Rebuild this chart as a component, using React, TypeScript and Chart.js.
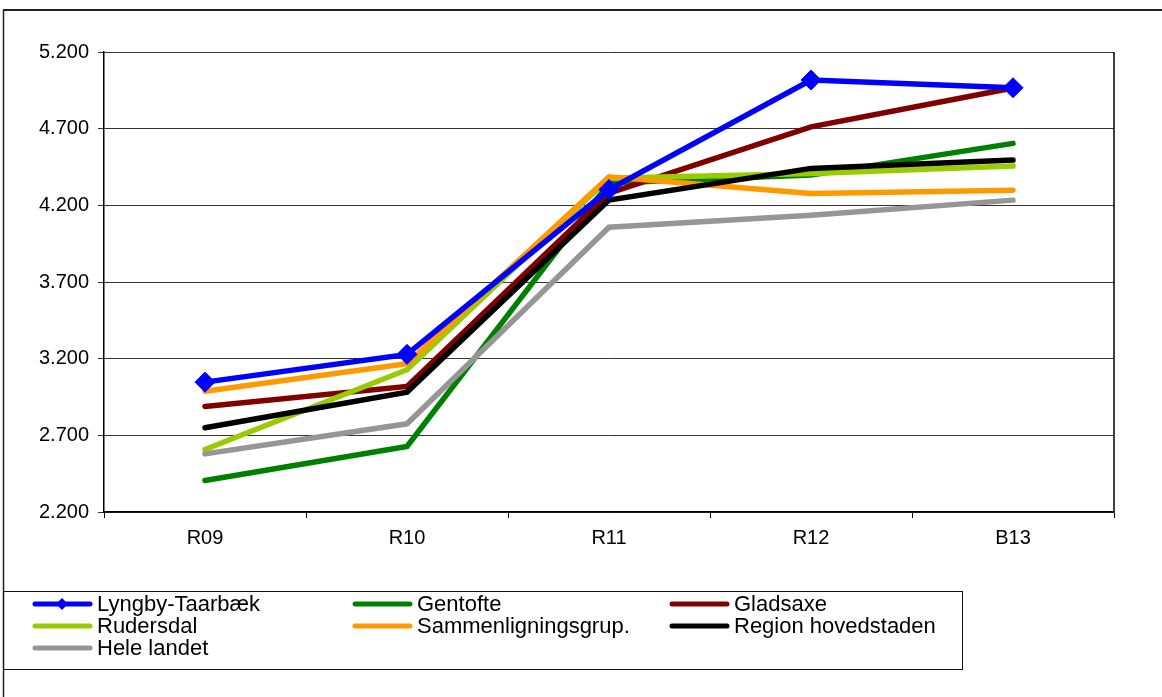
import React, { useEffect, useRef } from "react";
import { Chart, registerables } from "chart.js";

Chart.register(...registerables);

const categories = ["R09", "R10", "R11", "R12", "B13"];

const lyngbyTaarbaek = [3047, 3228, 4303, 5017, 4967];
const gentofte = [2405, 2627, 4345, 4397, 4604];
const gladsaxe = [2888, 3019, 4279, 4712, 4965];
const rudersdal = [2608, 3128, 4377, 4408, 4456];
const sammenligningsgrup = [2988, 3167, 4386, 4277, 4299];
const regionHovedstaden = [2749, 2982, 4234, 4441, 4495];
const heleLandet = [2579, 2775, 4057, 4136, 4234];

const seriesNames = [
  "Lyngby-Taarbæk",
  "Gentofte",
  "Gladsaxe",
  "Rudersdal",
  "Sammenligningsgrup.",
  "Region hovedstaden",
  "Hele landet",
];
const seriesValues = [
  lyngbyTaarbaek,
  gentofte,
  gladsaxe,
  rudersdal,
  sammenligningsgrup,
  regionHovedstaden,
  heleLandet,
];
const seriesColors = ["#0000FF", "#008000", "#800000", "#99CC00", "#FF9900", "#000000", "#969696"];
const seriesOrder = [0, 6, 5, 4, 3, 2, 1];

const yMin = 2200;
const yMax = 5200;
const yStep = 500;

const FONT = "'Liberation Sans', Arial, sans-serif";

function fmtDa(v: number): string {
  const s = Math.round(v).toString();
  return s.replace(/\B(?=(\d{3})+(?!\d))/g, ".");
}

const framePlugin = {
  id: "frameAndLegend",
  afterDraw(chart: any) {
    const ctx = chart.ctx as CanvasRenderingContext2D;
    const area = chart.chartArea;
    ctx.save();
    // outer frame
    ctx.strokeStyle = "#222";
    ctx.lineWidth = 2;
    ctx.beginPath();
    ctx.moveTo(3, 10);
    ctx.lineTo(1162, 10);
    ctx.stroke();
    ctx.lineWidth = 1.5;
    ctx.beginPath();
    ctx.moveTo(3.5, 10);
    ctx.lineTo(3.5, 697);
    ctx.stroke();
    // plot right border
    ctx.strokeStyle = "#000";
    ctx.lineWidth = 1.5;
    ctx.beginPath();
    ctx.moveTo(area.right, area.top);
    ctx.lineTo(area.right, area.bottom);
    ctx.stroke();
    // legend box
    ctx.lineWidth = 1;
    ctx.strokeStyle = "#111";
    ctx.strokeRect(3.5, 591.5, 959, 78);
    // legend items
    const colX = [33, 353, 670];
    const rowY = [604, 626, 648];
    ctx.font = `22px ${FONT}`;
    ctx.textBaseline = "middle";
    ctx.textAlign = "left";
    chart.data.datasets.forEach((ds: any, i: number) => {
      const x = colX[i % 3];
      const y = rowY[Math.floor(i / 3)];
      ctx.strokeStyle = ds.borderColor;
      ctx.lineWidth = 5;
      ctx.lineCap = "round";
      ctx.beginPath();
      ctx.moveTo(x + 2, y);
      ctx.lineTo(x + 57, y);
      ctx.stroke();
      if (i === 0) {
        ctx.fillStyle = ds.borderColor;
        ctx.beginPath();
        const cx = x + 29;
        const r = 6;
        ctx.moveTo(cx, y - r);
        ctx.lineTo(cx + r, y);
        ctx.lineTo(cx, y + r);
        ctx.lineTo(cx - r, y);
        ctx.closePath();
        ctx.fill();
      }
      ctx.fillStyle = "#000";
      ctx.fillText(ds.label, x + 64, y + 1);
    });
    ctx.restore();
  },
};

export default function App() {
  const canvasRef = useRef<HTMLCanvasElement | null>(null);

  useEffect(() => {
    if (!canvasRef.current) return;
    const datasets = seriesNames.map((name, i) => ({
      label: name,
      data: seriesValues[i],
      borderColor: seriesColors[i],
      backgroundColor: seriesColors[i],
      borderWidth: 5.5,
      tension: 0,
      fill: false,
      order: seriesOrder[i],
      pointStyle: "rectRot",
      pointRadius: i === 0 ? 10 : 0,
      pointHoverRadius: i === 0 ? 10 : 0,
      pointBorderWidth: 1,
      borderCapStyle: "round",
      borderJoinStyle: "miter",
    }));

    const chart = new Chart(canvasRef.current, {
      type: "line",
      data: { labels: categories, datasets: datasets as any },
      options: {
        animation: false,
        responsive: false,
        devicePixelRatio: 1,
        layout: { padding: { top: 52, right: 48, left: 0, bottom: 0 } },
        plugins: {
          legend: { display: false },
          tooltip: { enabled: false },
          title: { display: false },
        },
        scales: {
          x: {
            type: "category",
            offset: true,
            grid: {
              offset: true,
              drawOnChartArea: false,
              drawTicks: true,
              tickLength: 6,
              color: "#000",
            },
            border: { display: true, color: "#000", width: 1.5 },
            ticks: {
              color: "#000",
              font: { family: FONT, size: 20 },
              padding: 8,
              maxRotation: 0,
            },
            afterFit: (scale: any) => {
              scale.height = 185;
            },
          },
          y: {
            min: yMin,
            max: yMax,
            grid: {
              color: "#333",
              lineWidth: 1,
              drawTicks: true,
              tickLength: 6,
            },
            border: { display: true, color: "#000", width: 1.5 },
            ticks: {
              stepSize: yStep,
              color: "#000",
              font: { family: FONT, size: 20 },
              padding: 9,
              callback: (v: any) => fmtDa(Number(v)),
            },
            afterFit: (scale: any) => {
              scale.width = 104;
            },
          },
        },
      },
      plugins: [framePlugin],
    });
    return () => chart.destroy();
  }, []);

  return (
    <div style={{ position: "absolute", left: 0, top: 0, width: 1162, height: 697, background: "#fff" }}>
      <canvas ref={canvasRef} width={1162} height={697} style={{ width: 1162, height: 697, display: "block" }} />
    </div>
  );
}
